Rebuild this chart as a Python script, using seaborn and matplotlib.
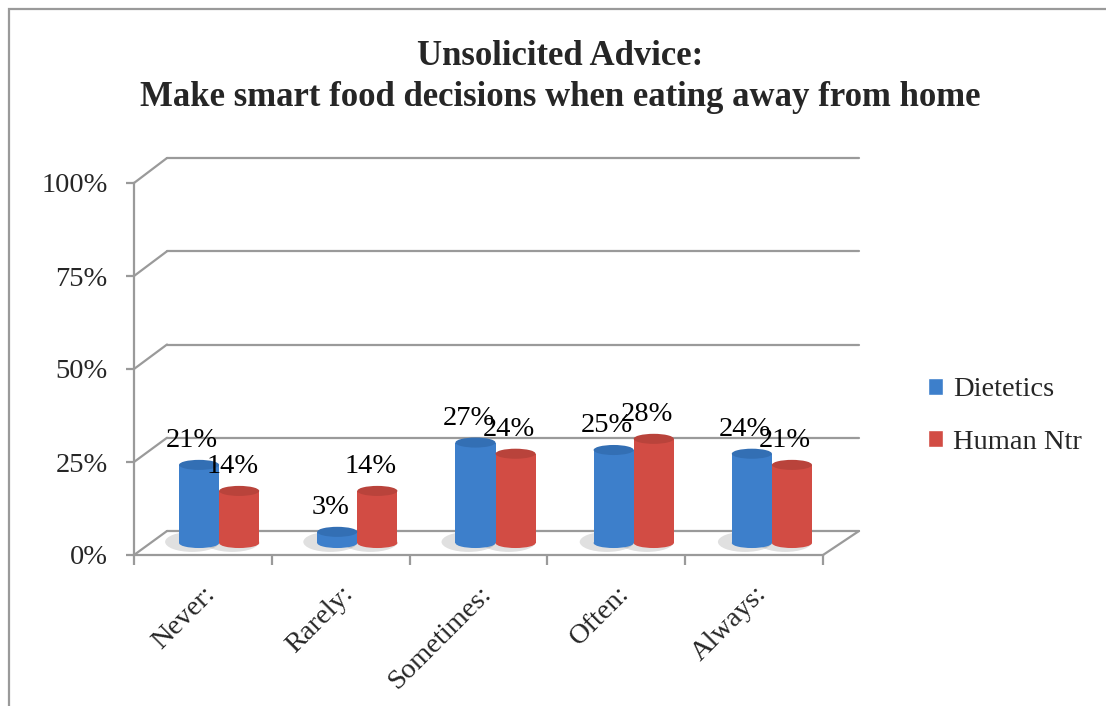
import matplotlib
matplotlib.use("Agg")
import matplotlib.pyplot as plt
import seaborn as sns
import pandas as pd
from matplotlib.patches import Ellipse, Rectangle, ConnectionPatch

# ---- data ----
categories = ["Never:", "Rarely:", "Sometimes:", "Often:", "Always:"]
dietetics = [21, 3, 27, 25, 24]
human_ntr = [14, 14, 24, 28, 21]
series_names = ["Dietetics", "Human Ntr"]
y_ticks = [0, 25, 50, 75, 100]
y_tick_labels = ["0%", "25%", "50%", "75%", "100%"]
title = "Unsolicited Advice:\nMake smart food decisions when eating away from home"

df = pd.DataFrame({
    "Response": categories * 2,
    "Percent": dietetics + human_ntr,
    "Program": [series_names[0]] * len(categories) + [series_names[1]] * len(categories),
})

sns.set_theme(style="white")
plt.rcParams["font.family"] = ["Liberation Serif", "DejaVu Serif"]

W, H = 1106, 706
GRAY = "#9a9a9a"
BLUE, RED = "#3d7fcb", "#d24c44"
BLUE_TOP, RED_TOP = "#336fb4", "#b9433b"
FS = 20.5

fig = plt.figure(figsize=(W / 100, H / 100), dpi=100)


def px_ax(left, right, y0, y100, z):
    ax = fig.add_axes([left / W, 1 - y0 / H, (right - left) / W, (y0 - y100) / H])
    ax.set_zorder(z)
    ax.patch.set_alpha(0)
    return ax


back = px_ax(167, 859, 531, 158, 1)
front = px_ax(134, 823, 555, 183, 2)
mid = px_ax(150, 841, 543, 171, 3)

# ---- back wall gridlines ----
for a in (back, front, mid):
    a.set_ylim(0, 100)
    a.set_xlim(-0.5, len(categories) - 0.5)
back.set_yticks(y_ticks)
back.set_xticks([])
back.tick_params(left=False, labelleft=False, bottom=False, labelbottom=False)
back.yaxis.grid(True, color=GRAY, linewidth=1.6)
for gl in back.get_ygridlines():
    gl.set_clip_on(False)
for s in back.spines.values():
    s.set_visible(False)

# ---- front axes: ticks, labels, floor edge ----
for side in ("top", "right"):
    front.spines[side].set_visible(False)
for side in ("left", "bottom"):
    front.spines[side].set_color(GRAY)
    front.spines[side].set_linewidth(1.6)
front.set_yticks(y_ticks)
front.set_yticklabels(y_tick_labels)
front.tick_params(axis="y", left=True, length=6, width=1.6, color=GRAY, pad=13, labelsize=FS)
front.set_xticks([i - 0.5 for i in range(len(categories) + 1)])
front.set_xticklabels([])
front.set_xticks(range(len(categories)), minor=True)
front.set_xticklabels(categories, minor=True, rotation=45, ha="right", va="top",
                      rotation_mode="anchor", fontsize=FS)
front.tick_params(axis="x", which="major", bottom=True, length=7, width=1.6, color=GRAY)
front.tick_params(axis="x", which="minor", bottom=False, length=0, pad=19)

for v in y_ticks:
    fig.add_artist(ConnectionPatch(xyA=(0, v), coordsA=front.get_yaxis_transform(),
                                   xyB=(0, v), coordsB=back.get_yaxis_transform(),
                                   color=GRAY, linewidth=1.6))
fig.add_artist(ConnectionPatch(xyA=(1, 0), coordsA=front.get_yaxis_transform(),
                               xyB=(1, 0), coordsB=back.get_yaxis_transform(),
                               color=GRAY, linewidth=1.6))

# ---- bars ----
sns.barplot(data=df, x="Response", y="Percent", hue="Program", palette=[BLUE, RED],
            width=0.58, gap=0, saturation=1, ax=mid, legend=True)
mid.set_xlim(-0.5, len(categories) - 0.5)
mid.set_ylim(0, 100)
mid.axis("off")
handles, labels = mid.get_legend_handles_labels()
mid.get_legend().remove()

eh = 2.7
for container, side_c, top_c in zip(mid.containers, [BLUE, RED], [BLUE_TOP, RED_TOP]):
    for bar in container:
        x, w, h = bar.get_x(), bar.get_width(), bar.get_height()
        bar.set_edgecolor("none")
        # soft floor shadow
        mid.add_patch(Ellipse((x + w / 2 - 0.05, 0.3), w * 1.35, eh * 2.0, facecolor="#000000",
                              alpha=0.12, edgecolor="none", zorder=0.5, clip_on=False))
        mid.add_patch(Ellipse((x + w / 2, 0), w, eh, facecolor=side_c, edgecolor="none",
                              zorder=bar.get_zorder(), clip_on=False))
        mid.add_patch(Ellipse((x + w / 2, h), w, eh, facecolor=top_c, edgecolor="none",
                              zorder=bar.get_zorder() + 0.1, clip_on=False))
        mid.annotate(f"{h:.0f}%", (x + w / 2, h), xytext=(-7, 24), textcoords="offset pixels",
                     ha="center", va="center", fontsize=FS, color="black", zorder=10,
                     annotation_clip=False)

fig.legend(handles, labels, loc="center left", bbox_to_anchor=(902 / W, 1 - 416 / H),
           frameon=False, fontsize=FS, handlelength=0.55, handleheight=0.55,
           handletextpad=0.35, labelspacing=0.95)

# ---- title and outer frame ----
fig.text(560 / W, 1 - 77 / H, title, ha="center", va="center", fontsize=25,
         fontweight="bold", linespacing=1.3)
fig.add_artist(Rectangle((9 / W, -0.5), 2, 1.5 - 9 / H, transform=fig.transFigure,
                         fill=False, edgecolor=GRAY, linewidth=1.6))

fig.savefig("out.png", dpi=100)
